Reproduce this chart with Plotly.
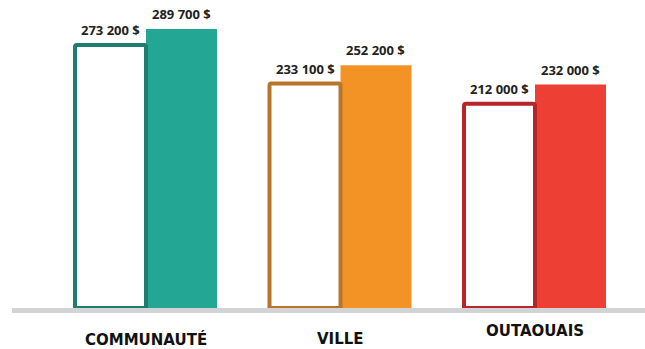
import plotly.graph_objects as go

# Median values per area: previous period (outlined) vs current period (filled)
categories = ["COMMUNAUTÉ", "VILLE", "OUTAOUAIS"]
previous_values = [273200, 233100, 212000]
current_values = [289700, 252200, 232000]

outline_colors = ["#1f7d6f", "#b8742a", "#b5252a"]
fill_colors = ["#23a694", "#f39326", "#ee3f35"]

label_font = dict(family="Open Sans", size=13, color="#222222", weight="bold")
cat_font = dict(family="DejaVu Sans", size=15, color="#111111", weight="bold")


def money(v):
    return f"{v:,}".replace(",", " ") + " $"


bar_w = 0.365

fig = go.Figure()

# Filled bars (current), right half of each group
fig.add_trace(go.Bar(
    x=categories, y=current_values,
    width=bar_w, offset=0,
    marker=dict(color=fill_colors, line=dict(width=0)),
    hoverinfo="skip",
))

# Outlined bars (previous), left half of each group
fig.add_trace(go.Bar(
    x=categories, y=previous_values,
    width=bar_w, offset=-bar_w,
    marker=dict(color="white", line=dict(color=outline_colors, width=4),
                cornerradius=2),
    hoverinfo="skip",
))

annotations = []
px_per_unit = 194.5
half = bar_w / 2 * px_per_unit
for cat, pv, cv in zip(categories, previous_values, current_values):
    annotations.append(dict(x=cat, y=pv, text=money(pv), showarrow=False,
                            xshift=-half, yanchor="bottom", yshift=4,
                            font=label_font))
    annotations.append(dict(x=cat, y=cv, text=money(cv), showarrow=False,
                            xshift=half, yanchor="bottom", yshift=4,
                            font=label_font))

cat_shifts = [-31, -31, -23]
for cat, s in zip(categories, cat_shifts):
    annotations.append(dict(x=cat, y=0, yref="paper", text=cat,
                            showarrow=False, yanchor="middle", yshift=s,
                            font=cat_font))

ymax = 308 / 0.000963

fig.update_layout(
    width=645, height=349,
    margin=dict(l=0, r=0, t=0, b=41),
    barmode="overlay",
    showlegend=False,
    plot_bgcolor="white", paper_bgcolor="white",
    xaxis=dict(visible=False, range=[-146 / px_per_unit, (645 - 146) / px_per_unit]),
    yaxis=dict(visible=False, range=[0, ymax]),
    annotations=annotations,
    shapes=[dict(type="rect", xref="paper", yref="paper",
                 x0=12 / 645, x1=1, y0=-5 / 308, y1=0,
                 fillcolor="#d1d3d4", line=dict(width=0), layer="above")],
)

fig.write_html("out.html")
